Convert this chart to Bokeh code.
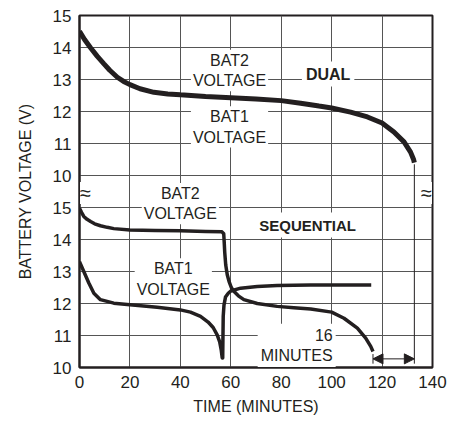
from bokeh.plotting import figure
from bokeh.models import Range1d, FixedTicker, Label, Arrow, NormalHead
from bokeh.embed import file_html
from bokeh.resources import INLINE

# ---------------- data ----------------
dual_time = [0, 2, 4.3, 7, 9.7, 12, 15, 17.5, 20, 24, 29.5, 35, 40, 50, 60, 70, 80,
             87.7, 95, 100, 107.5, 114.2, 120, 124.7, 128.7, 131.3, 132.5, 132.8]
dual_volt = [14.51, 14.25, 14.0, 13.73, 13.49, 13.29, 13.07, 12.94, 12.84, 12.71, 12.6,
             12.55, 12.52, 12.47, 12.43, 12.39, 12.34, 12.26, 12.17, 12.11, 11.98, 11.83,
             11.64, 11.36, 11.05, 10.73, 10.5, 10.4]

seq_bat2_time = [0, 0.8, 1.7, 3, 4.4, 6, 8.3, 11, 13.6, 20, 30, 40, 50, 56.5, 57.2, 57.4,
                 57.6, 58.0, 58.6, 59.3, 60.2, 61.2, 63, 65.2, 70.5, 78.4, 85, 91.7, 100,
                 104.9, 110.2, 113.5, 115.5, 116.4]
seq_bat2_volt = [14.98, 14.85, 14.72, 14.63, 14.56, 14.49, 14.43, 14.38, 14.34, 14.30, 14.28,
                 14.27, 14.25, 14.24, 14.18, 13.9, 13.6, 13.2, 12.9, 12.69, 12.5, 12.38, 12.24,
                 12.12, 12.0, 11.91, 11.87, 11.83, 11.73, 11.54, 11.23, 10.92, 10.66, 10.5]

seq_bat1_time = [0, 1.7, 3.7, 5.7, 8.3, 13.6, 20, 30.8, 40, 44, 48, 51, 53, 54.6, 55.6, 56.2,
                 56.6, 56.8, 56.9, 57.0, 57.3, 57.9, 59.0, 60, 63.9, 70.5, 78.4, 91.7, 115.7]
seq_bat1_volt = [13.31, 13.0, 12.64, 12.32, 12.12, 12.01, 11.96, 11.88, 11.80, 11.73, 11.6,
                 11.42, 11.25, 11.02, 10.8, 10.55, 10.3, 10.3, 11.0, 11.6, 11.95, 12.2, 12.32,
                 12.39, 12.48, 12.53, 12.56, 12.58, 12.58]

x_ticks = [0, 20, 40, 60, 80, 100, 120, 140]
volt_tick_labels = ["10", "11", "12", "13", "14", "15"]

# ---------------- style ----------------
FONT = "Liberation Sans"
INK = "#231f20"
GRID = "#555555"

p = figure(width=463, height=426, x_range=Range1d(0, 140), y_range=Range1d(10, 21),
           output_backend="svg", toolbar_location=None,
           min_border_left=79, min_border_right=31, min_border_top=15, min_border_bottom=59)
p.extra_y_ranges = {"dual": Range1d(4, 15)}

# y ticks: lower panel 10..15 and upper panel 16..21 (labelled 10..15)
y_ticks = list(range(10, 22))
overrides = {}
for i, lab_txt in enumerate(volt_tick_labels):
    overrides[10 + i] = lab_txt
    overrides[16 + i] = lab_txt

p.yaxis.ticker = FixedTicker(ticks=y_ticks)
p.yaxis.major_label_overrides = overrides
p.xaxis.ticker = FixedTicker(ticks=x_ticks)
p.ygrid.ticker = FixedTicker(ticks=y_ticks)
p.xgrid.ticker = FixedTicker(ticks=x_ticks)

for ax in (p.xaxis, p.yaxis):
    ax.major_tick_line_color = None
    ax.minor_tick_line_color = None
    ax.major_tick_out = 0
    ax.major_tick_in = 0
    ax.axis_line_color = INK
    ax.axis_line_width = 2
    ax.major_label_text_font = FONT
    ax.major_label_text_font_size = "17px"
    ax.major_label_text_color = INK
    ax.axis_label_text_font = FONT
    ax.axis_label_text_font_size = "16px"
    ax.axis_label_text_font_style = "normal"
    ax.axis_label_text_color = INK
    ax.major_label_standoff = 8

p.xaxis.axis_label = "TIME (MINUTES)"
p.yaxis.axis_label = "BATTERY VOLTAGE (V)"
p.xaxis.axis_label_standoff = 7
p.yaxis.axis_label_standoff = 16

p.grid.grid_line_color = GRID
p.grid.grid_line_width = 1
p.outline_line_color = INK
p.outline_line_width = 2
p.background_fill_color = "white"
p.border_fill_color = "white"

# ---------------- curves ----------------
p.line(dual_time, dual_volt, y_range_name="dual", line_color=INK, line_width=5)
p.line(seq_bat2_time, seq_bat2_volt, line_color=INK, line_width=3.5, line_join="round")
p.line(seq_bat1_time, seq_bat1_volt, line_color=INK, line_width=3.5, line_join="round")

# ---------------- 16 minute dimension ----------------
t_seq_end = seq_bat2_time[-1]
t_dual_end = dual_time[-1]
p.segment(x0=[t_dual_end], x1=[t_dual_end], y0=[10.12], y1=[16.35], line_color=INK, line_width=1)
p.segment(x0=[t_seq_end], x1=[t_seq_end], y0=[10.12], y1=[10.42], line_color=INK, line_width=1)
p.add_layout(Arrow(x_start=t_seq_end, x_end=t_dual_end, y_start=10.27, y_end=10.27,
                   line_color=INK, line_width=1,
                   start=NormalHead(size=10, fill_color=INK, line_color=INK),
                   end=NormalHead(size=10, fill_color=INK, line_color=INK)))

# ---------------- labels ----------------
def lab(text, x, y, bold=False, align="center", pad=2, y_range_name="default", size="16px",
        x_offset=0):
    p.add_layout(Label(x=x, y=y, text=text, y_range_name=y_range_name,
                       text_font=FONT, text_font_size=size, text_color=INK,
                       text_font_style="bold" if bold else "normal",
                       text_align=align, text_baseline="middle", text_line_height=1.2,
                       background_fill_color="white", padding=pad, x_offset=x_offset))

lab("BAT2\nVOLTAGE", 59.5, 13.28, y_range_name="dual")
lab("BAT1\nVOLTAGE", 59.5, 11.52, y_range_name="dual")
lab("DUAL", 98.6, 13.17, bold=True, pad=4, y_range_name="dual")
lab("BAT2\nVOLTAGE", 40, 15.12)
lab("BAT1\nVOLTAGE", 37.2, 12.77)
lab("SEQUENTIAL", 90.5, 14.45, bold=True, pad=4, size="15px")
lab("16\nMINUTES", 101.6, 10.69, align="right", pad=3)

# axis break marks
lab("≈", 0, 15.45, pad=0, size="20px", x_offset=6)
lab("≈", 140, 15.45, pad=0, size="20px", x_offset=-6)

open("out.html", "w").write(file_html(p, INLINE))
